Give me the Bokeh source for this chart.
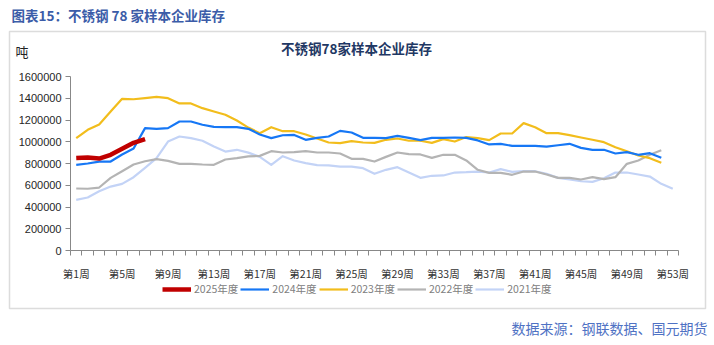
from bokeh.plotting import figure
from bokeh.models import (Range1d, FixedTicker, Legend, LegendItem, Label, BoxAnnotation,
                          NumeralTickFormatter, ColumnDataSource, LinearAxis)
from bokeh.embed import file_html
from bokeh.resources import INLINE

weeks = list(range(1, 54))
tick_weeks = list(range(1, 54, 4))
tick_labels = {w: f"第{w}周" for w in tick_weeks}
y_ticks = list(range(0, 1600001, 200000))

s2025 = [850000, 855000, 845000, 880000, 935000, 990000, 1025000]
s2024 = [788000, 800000, 818000, 818000, 883000, 938000, 1125000, 1119000, 1125000, 1186000,
         1186000, 1156000, 1137000, 1135000, 1134000, 1119000, 1067000, 1033000, 1060000, 1063000,
         1018000, 1036000, 1048000, 1100000, 1085000, 1036000, 1036000, 1033000, 1054000, 1036000,
         1015000, 1036000, 1036000, 1039000, 1036000, 1012000, 975000, 981000, 962000, 962000,
         962000, 956000, 968000, 981000, 944000, 926000, 926000, 892000, 904000, 880000,
         895000, 852000]
s2023 = [1033000, 1110000, 1159000, 1278000, 1395000, 1391000, 1401000, 1413000, 1401000, 1352000,
         1352000, 1309000, 1278000, 1248000, 1195000, 1130000, 1079000, 1134000, 1097000, 1097000,
         1067000, 1030000, 993000, 987000, 1005000, 993000, 990000, 1018000, 1030000, 1009000,
         1009000, 990000, 1024000, 1002000, 1043000, 1033000, 1015000, 1076000, 1076000, 1171000,
         1134000, 1079000, 1079000, 1061000, 1039000, 1018000, 996000, 950000, 913000, 874000,
         849000, 806000]
s2022 = [570000, 568000, 579000, 668000, 729000, 791000, 821000, 840000, 824000, 797000,
         797000, 791000, 788000, 837000, 849000, 866000, 870000, 913000, 901000, 904000,
         913000, 901000, 901000, 892000, 843000, 843000, 818000, 861000, 901000, 886000,
         883000, 852000, 880000, 880000, 828000, 742000, 714000, 714000, 696000, 726000,
         726000, 699000, 668000, 668000, 653000, 674000, 656000, 674000, 797000, 828000,
         880000, 922000]
s2021 = [466000, 487000, 545000, 588000, 613000, 674000, 760000, 849000, 1002000, 1048000,
         1033000, 1009000, 956000, 910000, 926000, 900000, 861000, 788000, 867000, 828000,
         803000, 785000, 782000, 772000, 772000, 757000, 705000, 742000, 766000, 717000,
         668000, 687000, 690000, 717000, 720000, 726000, 717000, 748000, 723000, 729000,
         729000, 705000, 668000, 653000, 637000, 631000, 665000, 717000, 717000, 699000,
         680000, 613000, 567000]

series = [
    ("2025年度", s2025, "#c00000", 4.5),
    ("2024年度", s2024, "#1677f5", 2.2),
    ("2023年度", s2023, "#f2bd1c", 2.2),
    ("2022年度", s2022, "#b4b4b4", 2.2),
    ("2021年度", s2021, "#c3d3f6", 2.2),
]

# ---- layout geometry (canvas pixels) ----
W, H = 714, 345
PL, PR, PT, PB = 70, 678, 76, 250          # plot-area edges
X0, X1 = 0.5, 53.5
Y0, Y1 = 0, 1600000
xs = (PR - PL) / (X1 - X0)
ys = (PB - PT) / (Y1 - Y0)
x_range = Range1d(X0 - PL / xs, X1 + (W - PR) / xs)
y_range = Range1d(Y0 - (H - PB) / ys, Y1 + PT / ys)

p = figure(width=W, height=H, output_backend="svg", toolbar_location=None,
           x_range=x_range, y_range=y_range, x_axis_location=None, y_axis_location=None,
           min_border=0)
p.outline_line_color = None
p.grid.grid_line_color = None
p.background_fill_color = "white"
p.border_fill_color = "white"

# x axis
xa = LinearAxis(fixed_location=Y0, bounds=(X0, X1))
xa.ticker = FixedTicker(ticks=tick_weeks, minor_ticks=[w - 0.5 for w in weeks] + [53.5])
xa.major_label_overrides = tick_labels
xa.major_tick_line_color = None
xa.minor_tick_in = 0
xa.minor_tick_out = 5
xa.minor_tick_line_color = "#888888"
xa.axis_line_color = "#888888"
xa.major_label_standoff = 9
xa.major_label_text_font = "Noto Sans CJK SC"
xa.major_label_text_font_size = "10.5px"
xa.major_label_text_color = "#333333"
p.add_layout(xa, "below")

# y axis
ya = LinearAxis(fixed_location=X0, bounds=(Y0, Y1))
ya.ticker = FixedTicker(ticks=y_ticks)
ya.formatter = NumeralTickFormatter(format="0")
ya.minor_tick_line_color = None
ya.major_tick_in = 0
ya.major_tick_out = 5
ya.major_tick_line_color = "#888888"
ya.axis_line_color = "#888888"
ya.major_label_standoff = 4
ya.major_label_text_font = "Liberation Sans"
ya.major_label_text_font_size = "11px"
ya.major_label_text_color = "#262626"
p.add_layout(ya, "left")

items = []
for name, vals, color, lw in reversed(series):
    src = ColumnDataSource(dict(x=weeks[:len(vals)], y=vals))
    r = p.line("x", "y", source=src, line_color=color, line_width=lw, line_join="round")
    items.append((name, r))
items = list(reversed(items))

legend = Legend(items=[LegendItem(label=n, renderers=[r]) for n, r in items],
                orientation="horizontal", location=(162, H - 296),
                glyph_width=29, glyph_height=14, label_standoff=3, spacing=2,
                padding=0, margin=0, border_line_color=None, background_fill_alpha=0,
                label_text_font="Noto Sans CJK SC", label_text_font_size="10.5px",
                label_text_color="#808080")
p.add_layout(legend, "center")

# outer frame box
p.add_layout(BoxAnnotation(left=9, right=705, top=H - 31, bottom=H - 308,
                           left_units="screen", right_units="screen",
                           top_units="screen", bottom_units="screen",
                           fill_alpha=0, line_color="#8c8c8c", line_width=1.5))

def lab(text, X, Y, size, color, bold=False, align="left", font="Noto Sans CJK SC"):
    p.add_layout(Label(x=X, y=H - Y, x_units="screen", y_units="screen", text=text,
                       text_font=font, text_font_size=size, text_color=color,
                       text_font_style="bold" if bold else "normal",
                       text_align=align, text_baseline="middle"))

lab("图表15：不锈钢 78 家样本企业库存", 11, 14, "13.5px", "#3b5ca8", bold=True)
lab("不锈钢78家样本企业库存", 356, 47, "13.5px", "#1f3864", bold=True, align="center")
lab("吨", 15, 51, "13px", "#222222")
lab("数据来源：钢联数据、国元期货", 707, 327, "14px", "#4f72c4", align="right")

open("out.html", "w").write(file_html(p, INLINE))
